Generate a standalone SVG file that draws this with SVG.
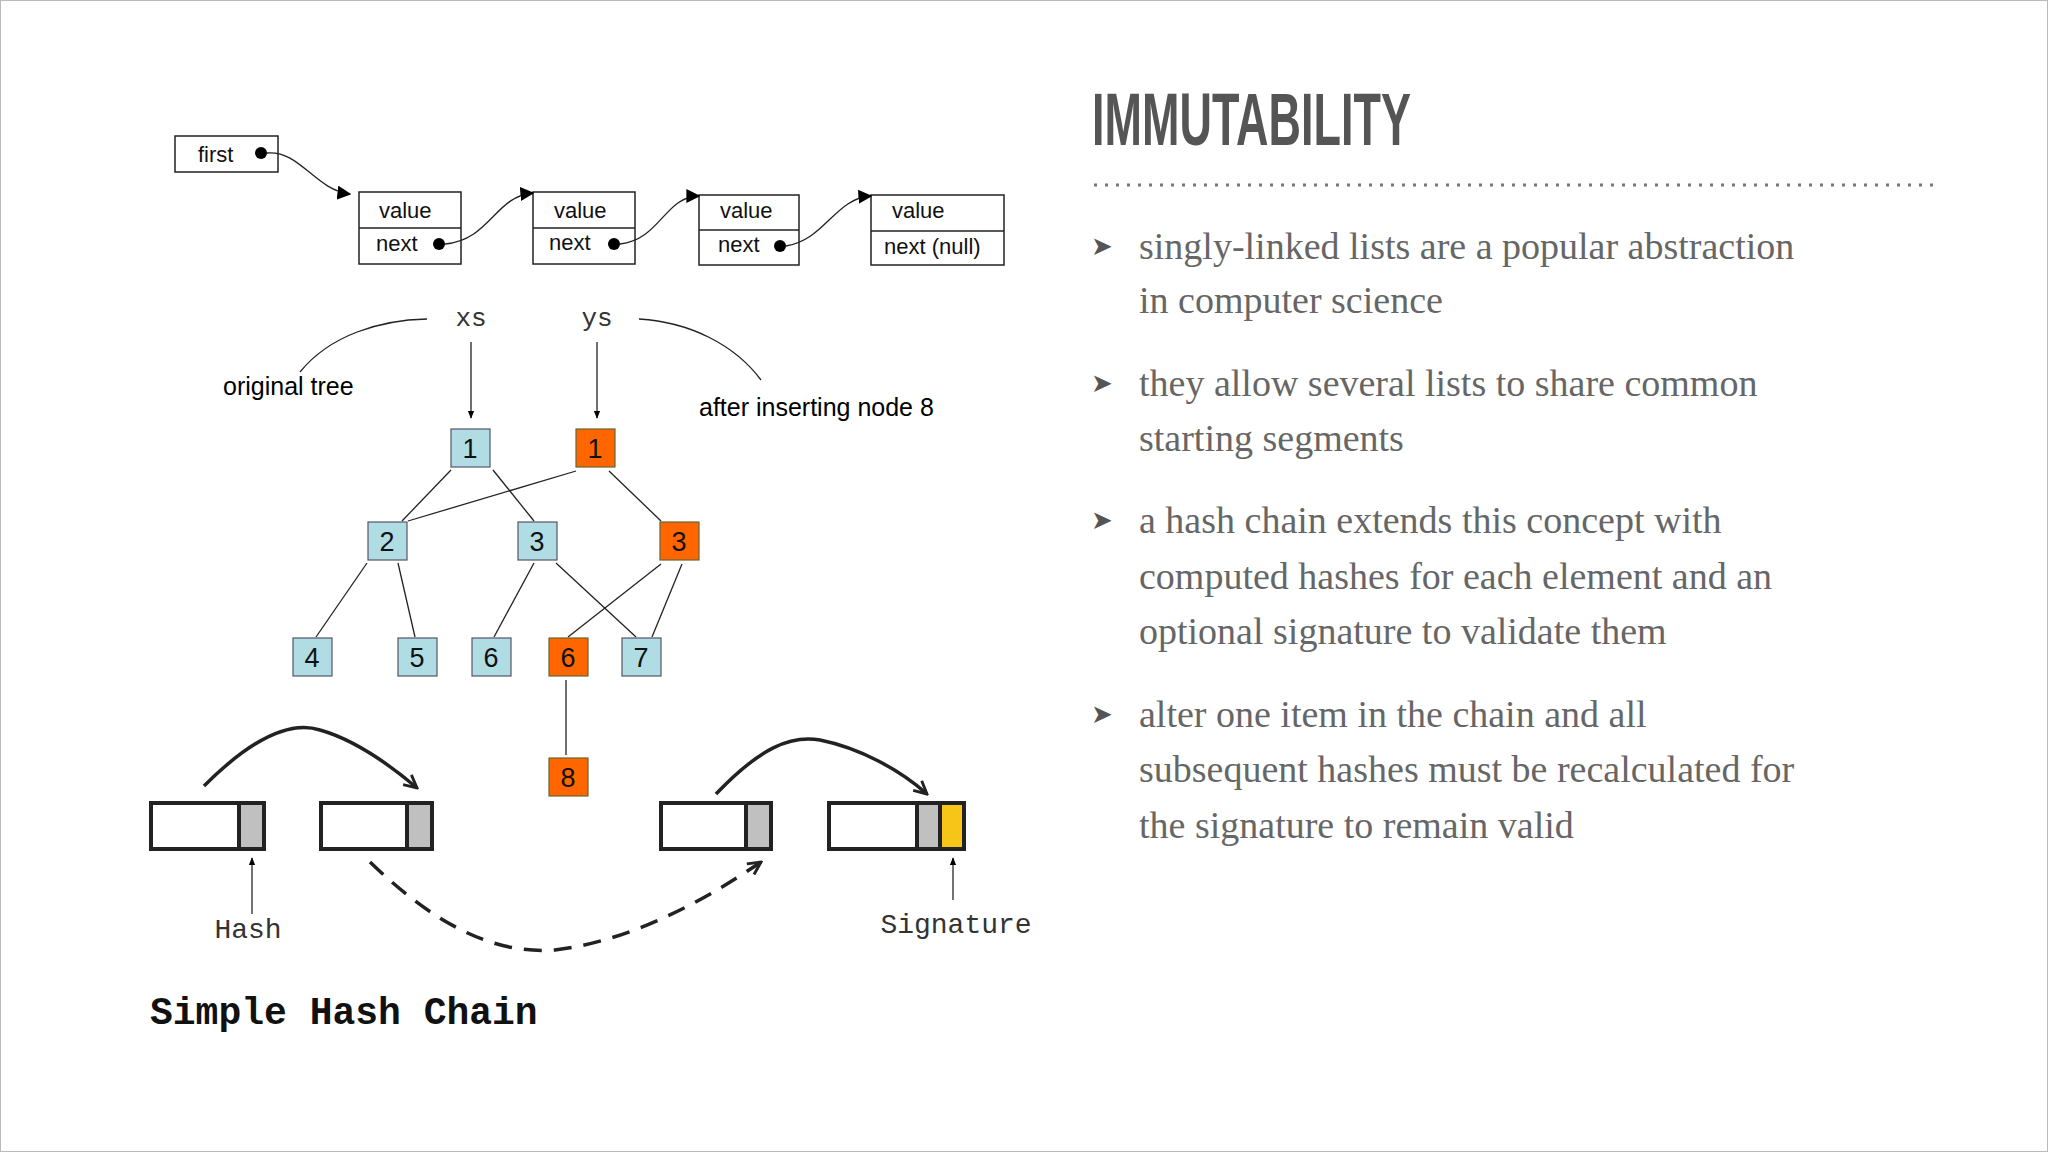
<svg xmlns="http://www.w3.org/2000/svg" width="2048" height="1152" viewBox="0 0 2048 1152">
<style>
.box{fill:#fff;stroke:#222;stroke-width:1.5}
.ll{font-family:"Liberation Sans",Arial,sans-serif;font-size:22px;fill:#111}
.tl{font-family:"Liberation Sans",Arial,sans-serif;font-size:25px;fill:#000}
.mono{font-family:"Liberation Mono","Courier New",monospace;fill:#333}
.edge{stroke:#222;stroke-width:1.3;fill:none}
.bn{fill:#b0dde4;stroke:#556;stroke-width:1.2}
.on{fill:#ff6600;stroke:#663;stroke-width:1.2}
.nt{font-family:"Liberation Sans",Arial,sans-serif;font-size:27px;text-anchor:middle;fill:#111}
.hb{fill:#fff;stroke:#222;stroke-width:4}
.hg{fill:#c0c0c0;stroke:#222;stroke-width:4}
.bul{font-family:"Liberation Serif","Times New Roman",serif;font-size:38px;fill:#666}
.arr{font-family:"DejaVu Sans",sans-serif;font-size:26px;fill:#555}
</style>
<defs>
<marker id="tri" viewBox="0 0 10 10" refX="9" refY="5" markerWidth="14" markerHeight="14" markerUnits="userSpaceOnUse" orient="auto"><path d="M0,0L10,5L0,10z" fill="#000"/></marker>
<marker id="sm" viewBox="0 0 10 10" refX="9" refY="5" markerWidth="8" markerHeight="8" markerUnits="userSpaceOnUse" orient="auto"><path d="M0,1L10,5L0,9z" fill="#000"/></marker>
<marker id="open" viewBox="0 0 10 10" refX="9" refY="5" markerWidth="16" markerHeight="16" markerUnits="userSpaceOnUse" orient="auto"><path d="M1,1L9,5L1,9" fill="none" stroke="#222" stroke-width="1.8"/></marker>
</defs>
<rect x="0.5" y="0.5" width="2047" height="1151" fill="#fff" stroke="#bbb"/>

<!-- linked list -->
<g id="first"><rect class="box" x="175" y="136" width="103" height="36"/><text class="ll" x="198" y="162">first</text><circle cx="261" cy="153" r="6"/></g>
<g id="ln1"><rect class="box" x="359" y="192" width="102" height="72"/><line class="edge" x1="359" y1="228" x2="461" y2="228"/><text class="ll" x="379" y="218">value</text><text class="ll" x="376" y="251">next</text><circle cx="439" cy="244" r="6"/></g>
<g id="ln2"><rect class="box" x="533" y="192" width="102" height="72"/><line class="edge" x1="533" y1="228" x2="635" y2="228"/><text class="ll" x="554" y="218">value</text><text class="ll" x="549" y="250">next</text><circle cx="614" cy="244" r="6"/></g>
<g id="ln3"><rect class="box" x="699" y="195" width="100" height="70"/><line class="edge" x1="699" y1="230" x2="799" y2="230"/><text class="ll" x="720" y="218">value</text><text class="ll" x="718" y="252">next</text><circle cx="780" cy="246" r="6"/></g>
<g id="ln4"><rect class="box" x="871" y="195" width="133" height="70"/><line class="edge" x1="871" y1="231" x2="1004" y2="231"/><text class="ll" x="892" y="218">value</text><text class="ll" x="884" y="254">next (null)</text></g>

<!-- tree nodes -->
<g id="xs"><text class="mono" x="471" y="326" font-size="26" text-anchor="middle">xs</text></g>
<g id="ys"><text class="mono" x="597" y="326" font-size="26" text-anchor="middle">ys</text></g>
<g id="orig"><text class="tl" x="223" y="395">original tree</text></g>
<g id="after"><text class="tl" x="699" y="416">after inserting node 8</text></g>
<g id="b1"><rect class="bn" x="451" y="429" width="39" height="38"/><text class="nt" x="470" y="458">1</text></g>
<g id="o1"><rect class="on" x="576" y="429" width="39" height="38"/><text class="nt" x="595" y="458">1</text></g>
<g id="b2"><rect class="bn" x="368" y="522" width="39" height="38"/><text class="nt" x="387" y="551">2</text></g>
<g id="b3"><rect class="bn" x="518" y="522" width="39" height="38"/><text class="nt" x="537" y="551">3</text></g>
<g id="o3"><rect class="on" x="660" y="522" width="39" height="38"/><text class="nt" x="679" y="551">3</text></g>
<g id="b4"><rect class="bn" x="293" y="638" width="39" height="38"/><text class="nt" x="312" y="667">4</text></g>
<g id="b5"><rect class="bn" x="398" y="638" width="39" height="38"/><text class="nt" x="417" y="667">5</text></g>
<g id="b6"><rect class="bn" x="472" y="638" width="39" height="38"/><text class="nt" x="491" y="667">6</text></g>
<g id="o6"><rect class="on" x="549" y="638" width="39" height="38"/><text class="nt" x="568" y="667">6</text></g>
<g id="b7"><rect class="bn" x="622" y="638" width="39" height="38"/><text class="nt" x="641" y="667">7</text></g>
<g id="o8"><rect class="on" x="549" y="758" width="39" height="38"/><text class="nt" x="568" y="787">8</text></g>

<!-- hash chain -->
<g id="h1"><rect class="hb" x="151" y="803" width="113" height="46"/><rect class="hg" x="239" y="803" width="25" height="46"/></g>
<g id="h2"><rect class="hb" x="321" y="803" width="111" height="46"/><rect class="hg" x="407" y="803" width="25" height="46"/></g>
<g id="h3"><rect class="hb" x="661" y="803" width="110" height="46"/><rect class="hg" x="746" y="803" width="25" height="46"/></g>
<g id="h4"><rect class="hb" x="829" y="803" width="135" height="46"/><rect class="hg" x="917" y="803" width="23" height="46"/><rect x="940" y="803" width="24" height="46" fill="#f5c518" stroke="#222" stroke-width="4"/></g>
<g id="hashlbl"><text class="mono" x="248" y="938" font-size="28" text-anchor="middle" fill="#555">Hash</text></g>
<g id="siglbl"><text class="mono" x="956" y="933" font-size="28" text-anchor="middle" fill="#555">Signature</text></g>
<g id="title"><text x="150" y="1024" font-family="Liberation Mono,'Courier New',monospace" font-weight="bold" font-size="38" fill="#111">Simple Hash Chain</text></g>

<g id="connectors">
<path class="edge" d="M267,153 C300,150 315,190 350,194" marker-end="url(#tri)"/>
<path class="edge" d="M445,244 C490,240 495,196 533,193" marker-end="url(#tri)"/>
<path class="edge" d="M620,244 C660,240 665,196 699,196" marker-end="url(#tri)"/>
<path class="edge" d="M786,246 C825,240 835,198 871,196" marker-end="url(#tri)"/>
<path class="edge" d="M300,372 C330,335 380,320 427,319"/>
<path class="edge" d="M639,319 C690,322 735,345 761,380"/>
<line class="edge" x1="471" y1="342" x2="471" y2="418" marker-end="url(#sm)"/>
<line class="edge" x1="597" y1="342" x2="597" y2="418" marker-end="url(#sm)"/>
<line class="edge" x1="451" y1="470" x2="402" y2="521"/>
<line class="edge" x1="493" y1="470" x2="534" y2="521"/>
<line class="edge" x1="576" y1="471" x2="408" y2="521"/>
<line class="edge" x1="609" y1="471" x2="661" y2="521"/>
<line class="edge" x1="367" y1="563" x2="316" y2="637"/>
<line class="edge" x1="398" y1="563" x2="415" y2="637"/>
<line class="edge" x1="534" y1="563" x2="494" y2="637"/>
<line class="edge" x1="556" y1="563" x2="636" y2="637"/>
<line class="edge" x1="661" y1="564" x2="568" y2="637"/>
<line class="edge" x1="682" y1="564" x2="652" y2="637"/>
<line class="edge" x1="566" y1="680" x2="566" y2="755"/>
<path d="M204,786 C250,740 290,720 320,730 C355,740 390,765 417,788" fill="none" stroke="#222" stroke-width="3.5" marker-end="url(#open)"/>
<path d="M716,794 C760,748 790,735 820,740 C860,748 900,770 927,794" fill="none" stroke="#222" stroke-width="3.5" marker-end="url(#open)"/>
<path d="M370,862 C430,920 490,955 555,950 C640,940 720,890 761,862" fill="none" stroke="#222" stroke-width="3.5" stroke-dasharray="18,12" marker-end="url(#open)"/>
<line x1="252" y1="914" x2="252" y2="858" stroke="#444" stroke-width="1.5" marker-end="url(#sm)"/>
<line x1="953" y1="900" x2="953" y2="858" stroke="#444" stroke-width="1.5" marker-end="url(#sm)"/>
</g>

<!-- right side -->
<g id="heading"><text x="1092" y="145" font-family="Liberation Sans,Arial,sans-serif" font-weight="bold" font-size="74" fill="#555" textLength="319" lengthAdjust="spacingAndGlyphs">IMMUTABILITY</text></g>
<line x1="1094" y1="185" x2="1933" y2="185" stroke="#777" stroke-width="3" stroke-dasharray="3,8"/>
<g id="bullets">
<text class="arr" x="1091" y="255">➤</text>
<text class="bul" x="1139" y="259">singly-linked lists are a popular abstraction</text>
<text class="bul" x="1139" y="313">in computer science</text>
<text class="arr" x="1091" y="392">➤</text>
<text class="bul" x="1139" y="396">they allow several lists to share common</text>
<text class="bul" x="1139" y="451">starting segments</text>
<text class="arr" x="1091" y="529">➤</text>
<text class="bul" x="1139" y="533">a hash chain extends this concept with</text>
<text class="bul" x="1139" y="589">computed hashes for each element and an</text>
<text class="bul" x="1139" y="644">optional signature to validate them</text>
<text class="arr" x="1091" y="723">➤</text>
<text class="bul" x="1139" y="727">alter one item in the chain and all</text>
<text class="bul" x="1139" y="782">subsequent hashes must be recalculated for</text>
<text class="bul" x="1139" y="838">the signature to remain valid</text>
</g>
</svg>
